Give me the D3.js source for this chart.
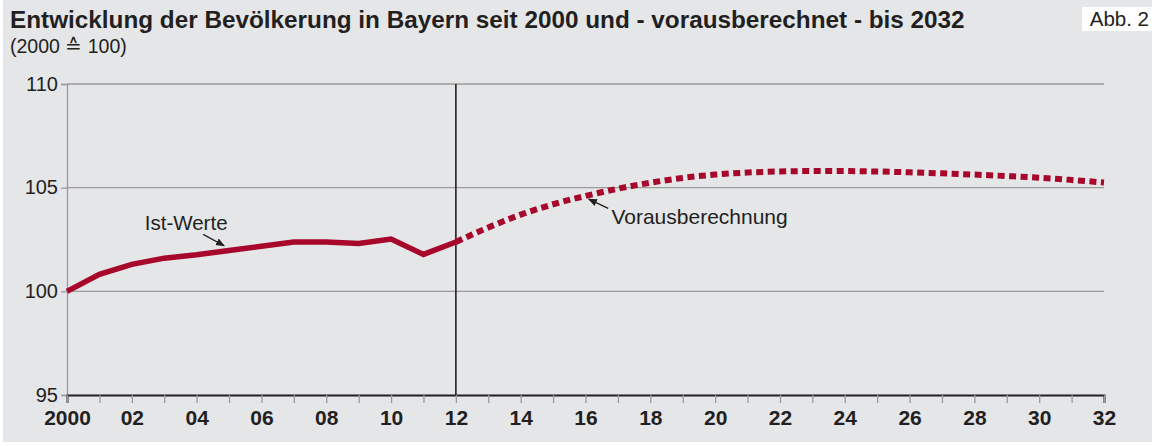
<!DOCTYPE html>
<html>
<head>
<meta charset="utf-8">
<script src="https://cdn.jsdelivr.net/npm/d3@7"></script>
<style>
  body { margin: 0; background: #fff; }
  svg { display: block; font-family: "Liberation Sans", Arial, sans-serif; }
</style>
</head>
<body>
<svg id="chart" width="1152" height="446"></svg>
<script>
// Ist-Werte 2000-2012 (2000 = 100)
const istYears = [2000, 2001, 2002, 2003, 2004, 2005, 2006, 2007, 2008, 2009, 2010, 2011, 2012];
const istValues = [100.0, 100.82, 101.3, 101.6, 101.76, 101.97, 102.17, 102.38, 102.38, 102.31, 102.52, 101.78, 102.38];

// Vorausberechnung 2012-2032
const vorYears = [2012, 2013, 2014, 2015, 2016, 2017, 2018, 2019, 2020, 2021, 2022, 2023, 2024, 2025, 2026, 2027, 2028, 2029, 2030, 2031, 2032];
const vorValues = [102.38, 103.08, 103.7, 104.2, 104.6, 104.95, 105.24, 105.47, 105.63, 105.73, 105.78, 105.8, 105.8, 105.78, 105.74, 105.69, 105.63, 105.56, 105.48, 105.37, 105.25];

const yTicks = [95, 100, 105, 110];
const xTicks = d3.range(2000, 2033, 2);
const xLabel = d => d === 2000 ? "2000" : String(d % 100).padStart(2, "0");

const svg = d3.select("#chart");
const margin = { top: 84, right: 48, bottom: 51, left: 67 };
const width = 1152, height = 446;
const red = "#a8072c";
const ink = "#231f20";

// background (leaves a thin white border left and bottom)
svg.append("rect")
  .attr("x", 3).attr("y", 0)
  .attr("width", width - 3).attr("height", height - 4)
  .attr("fill", "#e5e6e8");

const x = d3.scaleLinear()
  .domain([2000, 2032])
  .range([margin.left, width - margin.right]);

const y = d3.scaleLinear()
  .domain([95, 110])
  .range([height - margin.bottom, margin.top]);

// title
svg.append("text")
  .attr("x", 10).attr("y", 28)
  .attr("font-size", 24.3).attr("font-weight", "bold").attr("fill", ink)
  .text("Entwicklung der Bevölkerung in Bayern seit 2000 und - vorausberechnet - bis 2032");
svg.append("text")
  .attr("x", 10).attr("y", 53)
  .attr("font-size", 19.5).attr("fill", ink)
  .text("(2000 \u2259 100)");

// Abb. 2 box
svg.append("rect")
  .attr("x", 1082).attr("y", 7).attr("width", 70).attr("height", 24)
  .attr("fill", "#fff");
svg.append("text")
  .attr("x", 1149).attr("y", 26).attr("text-anchor", "end")
  .attr("font-size", 20.5).attr("fill", ink)
  .text("Abb. 2");

// horizontal gridlines
svg.append("g")
  .selectAll("line")
  .data(yTicks.filter(d => d > 95))
  .join("line")
  .attr("x1", x(2000)).attr("x2", x(2032))
  .attr("y1", d => y(d)).attr("y2", d => y(d))
  .attr("stroke", "#9a9a9a").attr("stroke-width", 1.3);

// y axis
const yAxis = svg.append("g")
  .attr("transform", `translate(${margin.left},0)`)
  .call(d3.axisLeft(y).tickValues(yTicks).tickSize(6).tickPadding(3));
yAxis.select(".domain").attr("stroke", "#9a9a9a").attr("stroke-width", 1.3);
yAxis.selectAll(".tick line").attr("stroke", "#9a9a9a").attr("stroke-width", 1.3);
yAxis.selectAll("text")
  .attr("font-size", 20).attr("font-family", "Liberation Sans, Arial, sans-serif")
  .attr("fill", ink).attr("dy", "0.3em");

// x axis
const xAxis = svg.append("g")
  .attr("transform", `translate(0,${y(95)})`)
  .call(d3.axisBottom(x).tickValues(d3.range(2000, 2033, 1)).tickSize(8).tickFormat(d => xTicks.includes(d) ? xLabel(d) : ""));
xAxis.select(".domain").attr("stroke", ink).attr("stroke-width", 2);
xAxis.selectAll(".tick line").attr("stroke", "#9a9a9a").attr("stroke-width", 1.3);
xAxis.selectAll("text")
  .attr("font-size", 21).attr("font-weight", "bold")
  .attr("font-family", "Liberation Sans, Arial, sans-serif")
  .attr("fill", ink).attr("y", 15).attr("dy", "0.71em");

// vertical separator at 2012
svg.append("line")
  .attr("x1", x(2012)).attr("x2", x(2012))
  .attr("y1", y(110)).attr("y2", y(95))
  .attr("stroke", ink).attr("stroke-width", 1.6);

// lines
const istData = istYears.map((d, i) => [d, istValues[i]]);
const vorData = vorYears.map((d, i) => [d, vorValues[i]]);

svg.append("path")
  .datum(vorData)
  .attr("fill", "none")
  .attr("stroke", red).attr("stroke-width", 6)
  .attr("stroke-dasharray", "7,4.5")
  .attr("d", d3.line().x(d => x(d[0])).y(d => y(d[1])).curve(d3.curveMonotoneX));

svg.append("path")
  .datum(istData)
  .attr("fill", "none")
  .attr("stroke", red).attr("stroke-width", 5.5)
  .attr("stroke-linejoin", "miter")
  .attr("d", d3.line().x(d => x(d[0])).y(d => y(d[1])));

// annotations
const defs = svg.append("defs");
defs.append("marker")
  .attr("id", "arrow").attr("viewBox", "0 0 10 10")
  .attr("refX", 9).attr("refY", 5)
  .attr("markerWidth", 7).attr("markerHeight", 7)
  .attr("orient", "auto")
  .append("path").attr("d", "M0,1 L10,5 L0,9 Z").attr("fill", ink);

svg.append("text")
  .attr("x", x(2002.4)).attr("y", y(102.95))
  .attr("font-size", 20.5).attr("fill", ink)
  .text("Ist-Werte");
svg.append("line")
  .attr("x1", x(2004.2)).attr("y1", y(102.75))
  .attr("x2", x(2004.85)).attr("y2", y(102.2))
  .attr("stroke", ink).attr("stroke-width", 1.3)
  .attr("marker-end", "url(#arrow)");

svg.append("text")
  .attr("x", x(2016.8)).attr("y", y(103.25))
  .attr("font-size", 21).attr("fill", ink)
  .text("Vorausberechnung");
svg.append("line")
  .attr("x1", x(2016.7)).attr("y1", y(104.0))
  .attr("x2", x(2016.1)).attr("y2", y(104.45))
  .attr("stroke", ink).attr("stroke-width", 1.3)
  .attr("marker-end", "url(#arrow)");
</script>
</body>
</html>
